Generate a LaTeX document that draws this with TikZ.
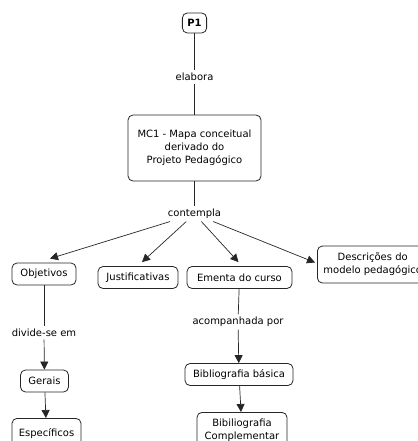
\documentclass[tikz,border=0pt]{standalone}
\usepackage{fontspec}
\setmainfont{DejaVu Sans}
\usetikzlibrary{arrows.meta,calc}
\begin{document}
\begin{tikzpicture}[x=1pt,y=-1pt,
  concept/.style={draw=black!85, line width=0.8pt, rounded corners=5pt,
    font=\fontsize{10}{13}\selectfont, align=center, inner xsep=6pt,
    minimum height=22pt, fill=white},
  linkword/.style={font=\fontsize{10}{12}\selectfont, inner sep=2.5pt},
  conn/.style={draw=black!85, line width=0.7pt},
  arr/.style={conn, -{Triangle[length=8pt,width=8pt]}}]
\useasboundingbox (0,0) rectangle (417,441);

% concepts
\node[concept, minimum height=20pt, inner xsep=5pt, font=\fontsize{10}{12}\selectfont\bfseries] (p1) at (194.5,23) {P1};
\node[concept, minimum height=66pt, minimum width=133pt] (mc1) at (194.5,148)
  {MC1 - Mapa conceitual\\derivado do\\Projeto Pedagógico};
\node[concept, minimum width=64pt] (obj) at (44,274) {Objetivos};
\node[concept, minimum width=80pt] (just) at (138,277.5) {Justificativas};
\node[concept, minimum width=105pt] (eme) at (239.5,277.5) {Ementa do curso};
\node[concept, anchor=west, minimum height=37pt] (desc) at (317,264.5)
  {Descrições do\\modelo pedagógico};
\node[concept, minimum width=48pt] (ger) at (44.5,381) {Gerais};
\node[concept, anchor=north, minimum width=69pt, minimum height=30pt] (esp) at (46.5,418) {Específicos};
\node[concept, minimum width=108pt] (bb) at (239,374.5) {Bibliografia básica};
\node[concept, anchor=north, minimum width=90pt, minimum height=36pt] (bc) at (242,412)
  {Bibiliografia\\Complementar};

% linking phrases
\node[linkword] (elab) at (194.5,77) {elabora};
\node[linkword] (cont) at (194.5,214) {contempla};
\node[linkword] (div) at (44,333) {divide-se em};
\node[linkword] (acomp) at (238,322) {acompanhada por};

% connectors
\draw[conn] (p1) -- (elab);
\draw[conn] (elab) -- (mc1);
\draw[conn] (mc1) -- (cont);
\draw[arr] (cont) -- ($(obj.north)+(6,-4)$);
\draw[arr] (cont) -- ($(just.north)+(4,-4)$);
\draw[arr] (cont) -- ($(eme.north)+(-1,-4)$);
\draw[arr] (cont) -- ($(desc.west)+(-2,-2)$);
\draw[conn] (obj) -- (div);
\draw[arr] (div) -- (ger);
\draw[arr] (ger) -- (esp);
\draw[conn] (eme) -- (acomp);
\draw[arr] (acomp) -- (bb);
\draw[arr] (bb) -- (bc);
\end{tikzpicture}
\end{document}
